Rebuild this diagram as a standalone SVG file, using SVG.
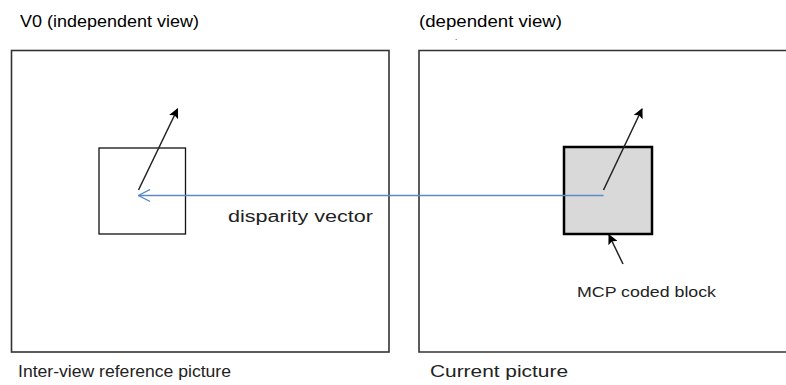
<svg xmlns="http://www.w3.org/2000/svg" width="786" height="385" viewBox="0 0 786 385">
<defs>
<marker id="ah" viewBox="0 0 10 10" refX="9" refY="5" markerWidth="10" markerHeight="10" markerUnits="userSpaceOnUse" orient="auto">
<path d="M0,0 L10,5 L0,10 L2,5 Z" fill="#000"/>
</marker>
<marker id="open" viewBox="0 0 12 14" refX="11.5" refY="7" markerWidth="12" markerHeight="14" markerUnits="userSpaceOnUse" orient="auto">
<path d="M0,1 L11.5,7 L0,13" fill="none" stroke="#5b8ac6" stroke-width="1.3"/>
</marker>
</defs>
<style>
.frame{fill:none;stroke:#333;stroke-width:1.6}
.t{font-family:"Liberation Sans",Arial,sans-serif;fill:#000}
.k{font-family:"Liberation Sans",Arial,sans-serif;fill:#222}
.vec{stroke:#222;stroke-width:1.5;fill:none}
</style>
<rect width="786" height="385" fill="#fff"/>
<g id="labels-top">
<text class="t" x="20" y="27" font-size="17" textLength="179" lengthAdjust="spacingAndGlyphs">V0 (independent view)</text>
<text class="t" x="419" y="27" font-size="17" textLength="143" lengthAdjust="spacingAndGlyphs">(dependent view)</text>
<text class="t" x="455" y="40" font-size="8">.</text>
</g>
<g id="ref-picture">
<rect class="frame" x="11.5" y="50.5" width="377.5" height="301.5"/>
<text class="k" x="18" y="377" font-size="16" textLength="213" lengthAdjust="spacingAndGlyphs">Inter-view reference picture</text>
</g>
<g id="cur-picture">
<path class="frame" d="M790,50.5 H419 V352 H790"/>
<text class="k" x="430" y="377" font-size="16" textLength="138" lengthAdjust="spacingAndGlyphs">Current picture</text>
</g>
<g id="ref-block">
<rect x="99" y="148" width="86.5" height="86" fill="none" stroke="#111" stroke-width="1.3"/>
</g>
<g id="mcp-block">
<rect x="564" y="147" width="88" height="87" fill="#d9d9d9" stroke="#000" stroke-width="2.5"/>
<text class="k" x="577" y="297" font-size="14" textLength="139" lengthAdjust="spacingAndGlyphs">MCP coded block</text>
</g>
<g id="connectors">
<line class="vec" x1="138.5" y1="190" x2="177.5" y2="109" marker-end="url(#ah)"/>
<line class="vec" x1="603.5" y1="190" x2="642" y2="109" marker-end="url(#ah)"/>
<line class="vec" x1="623" y1="264" x2="609" y2="235" marker-end="url(#ah)"/>
<line x1="603.5" y1="195.5" x2="138.5" y2="195.5" stroke="#5b8ac6" stroke-width="1.3" marker-end="url(#open)"/>
<text class="k" x="228" y="222" font-size="16" textLength="145" lengthAdjust="spacingAndGlyphs">disparity vector</text>
</g>
</svg>
